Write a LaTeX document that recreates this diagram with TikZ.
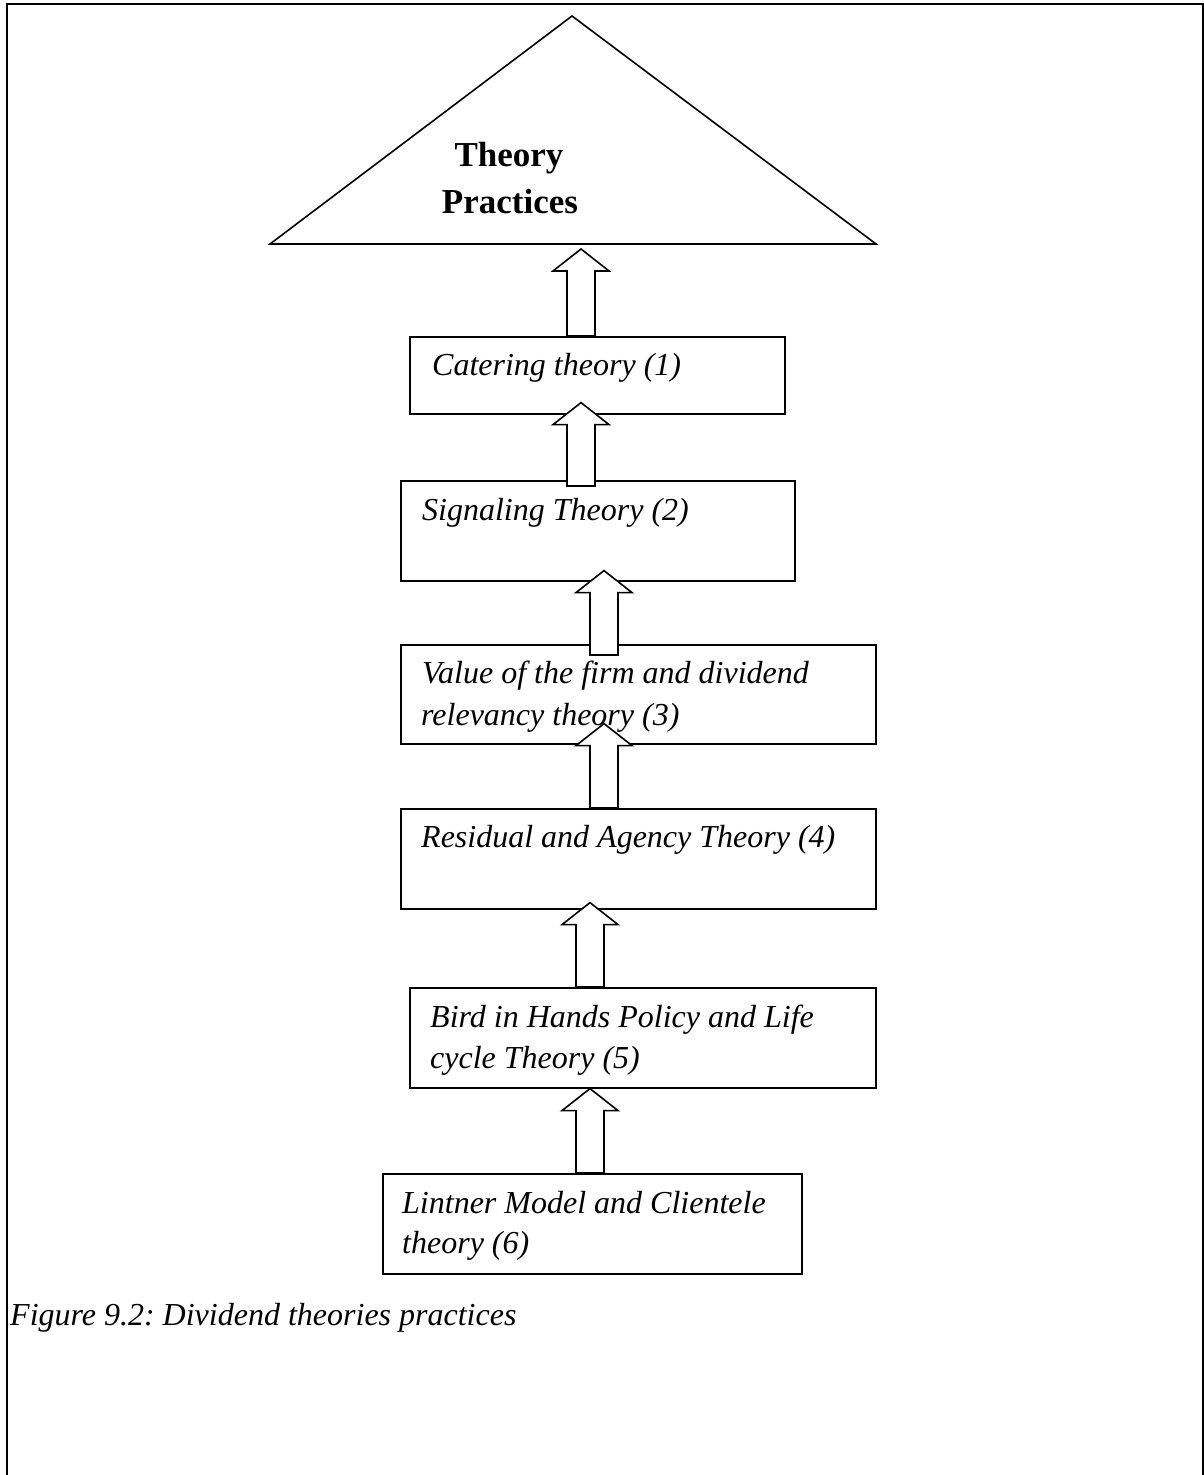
\documentclass[tikz,border=0pt]{standalone}
\usepackage{fontspec}
\setmainfont{Liberation Serif}
\usetikzlibrary{calc}
\frenchspacing
\tikzset{
  boxnode/.style={draw, line width=1.6pt, rectangle, anchor=north west, inner sep=0pt, fill=white},
  labeltext/.style={anchor=base west, inner sep=0pt, font=\fontsize{32}{40}\selectfont\itshape},
  toptext/.style={anchor=base, inner sep=0pt, font=\fontsize{35}{40}\selectfont\bfseries},
  blockarrow/.style={draw, fill=white, line width=1.6pt, line join=miter},
  frameline/.style={line width=2pt},
  triline/.style={line width=1.6pt, line join=miter}
}
\newcommand\blockup[5]{%
  \draw[blockarrow] let \p1=(#1.north), \p2=(#2) in
    ({#3pt-14pt},{\y1-#4pt}) -- ({#3pt-14pt},{\y2+#5pt-22pt}) --
    ({#3pt-28pt},{\y2+#5pt-22pt}) -- ({#3pt},{\y2+#5pt}) --
    ({#3pt+28pt},{\y2+#5pt-22pt}) -- ({#3pt+14pt},{\y2+#5pt-22pt}) --
    ({#3pt+14pt},{\y1-#4pt}) -- cycle;}
\begin{document}
\begin{tikzpicture}[x=1pt,y=-1pt]
\useasboundingbox (0,0) rectangle (1204,1475);
% frame
\draw[frameline] (7,1475) -- (7,4) -- (1203,4) -- (1203,1475);
% triangle
\coordinate (tt) at (572,16);
\coordinate (tl) at (270,244);
\coordinate (tr) at (876,244);
\coordinate (tb) at (573,244);
\draw[triline] (tl) -- (tt) -- (tr) -- cycle;
\node[toptext] (th) at (509,166) {Theory};
\node[toptext] (tp) at (510,213) {Practices};
% boxes
\node[boxnode, minimum width=375pt, minimum height=77pt] (b1) at (409,336) {};
\node[boxnode, minimum width=394pt, minimum height=100pt] (b2) at (400,480) {};
\node[boxnode, minimum width=475pt, minimum height=99pt] (b3) at (400,644) {};
\node[boxnode, minimum width=475pt, minimum height=100pt] (b4) at (400,808) {};
\node[boxnode, minimum width=466pt, minimum height=100pt] (b5) at (409,987) {};
\node[boxnode, minimum width=419pt, minimum height=100pt] (b6) at (382,1173) {};
% labels
\node[labeltext] (t1) at (432,375) {Catering theory (1)};
\node[labeltext] (t2) at (422,520) {Signaling Theory (2)};
\node[labeltext] (t3a) at (422,683) {Value of the f{}irm and dividend};
\node[labeltext] (t3b) at (421,725) {relevancy theory (3)};
\node[labeltext] (t4) at (421,847) {Residual and Agency Theory (4)};
\node[labeltext] (t5a) at (430,1027) {Bird in Hands Policy and Life};
\node[labeltext] (t5b) at (430,1068) {cycle Theory (5)};
\node[labeltext] (t6a) at (402,1213) {Lintner Model and Clientele};
\node[labeltext] (t6b) at (402,1253) {theory (6)};
% arrows
\blockup{b1}{tb}{581}{0}{-5}
\blockup{b2}{b1.south}{581}{6}{12}
\blockup{b3}{b2.south}{604}{11}{11}
\blockup{b4}{b3.south}{604}{0}{21}
\blockup{b5}{b4.south}{590}{0}{7}
\blockup{b6}{b5.south}{590}{0}{0}
% caption
\node[labeltext] (cap) at (10,1325) {Figure 9.2: Dividend theories practices};
\end{tikzpicture}
\end{document}
